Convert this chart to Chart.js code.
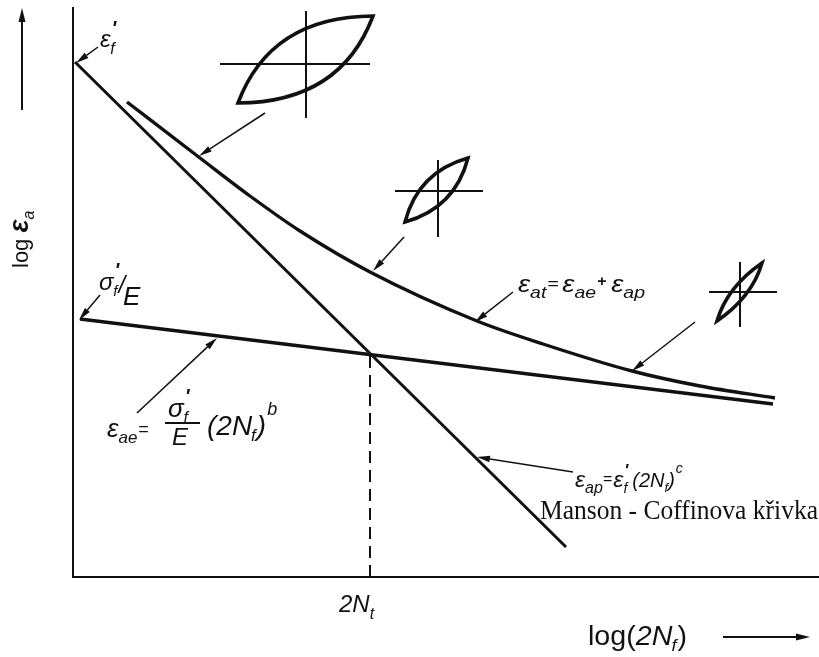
<!DOCTYPE html>
<html>
<head>
<meta charset="utf-8">
<script src="https://cdn.jsdelivr.net/npm/chart.js@4/dist/chart.umd.min.js"></script>
<style>
  html, body { margin: 0; padding: 0; background: #fff; }
  canvas { display: block; }
</style>
</head>
<body>
<canvas id="c" width="819" height="657"></canvas>
<script>
// Strain–life diagram (log 2Nf vs log εa), schematic units.

// Plastic strain amplitude (Manson–Coffin line)
const plasticX = [0.02, 4.93];
const plasticY = [5.15, 0.30];
// Elastic strain amplitude (Basquin line)
const elasticX = [0.07, 7.00];
const elasticY = [2.58, 1.73];
// Total strain amplitude curve
const totalX = [0.54, 1.27, 1.77, 2.27, 2.97, 4.04, 4.70, 5.59, 6.27, 7.02];
const totalY = [4.75, 4.19, 3.81, 3.46, 3.05, 2.56, 2.33, 2.06, 1.91, 1.79];
// Transition life 2Nt
const transitionX = [2.97, 2.97];
const transitionY = [2.21, 0.00];

// Hysteresis loop sketches: lower-left corner, upper arc control, upper-right corner
const loopCorner1 = [[1.65, 4.74], [3.32, 3.55], [6.44, 2.56]];
const loopControl = [[1.975, 5.605], [3.45, 4.05], [6.54, 2.90]];
const loopCorner2 = [[3.00, 5.61], [3.95, 4.19], [6.89, 3.14]];
// loop axes: horizontal [x1, x2, y], vertical [x, y1, y2]
const loopAxisH = [[1.47, 2.97, 5.13], [3.22, 4.10, 3.86], [6.36, 7.04, 2.85]];
const loopAxisV = [[2.33, 5.66, 4.59], [3.65, 4.17, 3.40], [6.67, 3.15, 2.50]];

// Leader arrows: [fromX, fromY, tipX, tipY]
const leaders = [
  [0.25, 5.30, 0.03, 5.14],
  [1.92, 4.64, 1.26, 4.21],
  [3.31, 3.40, 3.00, 3.06],
  [4.40, 2.85, 4.02, 2.55],
  [6.22, 2.55, 5.59, 2.06],
  [0.27, 2.82, 0.06, 2.57],
  [0.64, 1.64, 1.44, 2.39],
  [5.00, 1.05, 4.04, 1.20]
];

// Axis direction arrows
const axisArrows = [
  [-0.51, 4.67, -0.51, 5.69],
  [6.50, -0.60, 7.37, -0.60]
];

const SANS = '"Liberation Sans", Arial, sans-serif';
const SERIF = '"Liberation Serif", "Times New Roman", serif';
const INK = '#111';
const PRIME = "'";

// rich labels: anchor (data units), runs [text, size, style, dy, dx, family]
const labels = [
  { x: 0.27, y: 5.30, runs: [['ε', 24, 'italic'], [PRIME, 20, 'bold italic', -12, 1], ['f', 16, 'italic', 7, -6]] },
  { x: -0.45, y: 3.09, rot: -Math.PI / 2, runs: [['log ', 22, 'normal'], ['ε', 27, 'bold italic'], ['a', 16, 'italic', 6, 0]] },
  { x: 0.26, y: 2.87, runs: [['σ', 24, 'italic'], [PRIME, 20, 'bold italic', -13, 1], ['f', 15, 'italic', 6, -6], ['/', 24, 'italic', 3, 1], ['E', 26, 'italic', 15, -2]] },
  { x: 4.45, y: 2.85, fit: 127, runs: [['ε', 24, 'italic'], ['at', 17, 'italic', 6], ['=', 17, 'normal', -3, 1], ['ε', 24, 'italic', 0, 3], ['ae', 17, 'italic', 6], ['+', 14, 'bold', -6, 1], ['ε', 24, 'italic', 0, 4], ['ap', 17, 'italic', 6]] },
  { x: 0.34, y: 1.40, runs: [['ε', 26, 'italic'], ['ae', 17, 'italic', 6], ['=', 18, 'normal', -2, 1]] },
  { x: 0.95, y: 1.60, runs: [['σ', 26, 'italic'], [PRIME, 20, 'bold italic', -14, 1], ['f', 16, 'italic', 6, -6]] },
  { x: 0.99, y: 1.32, runs: [['E', 24, 'italic']] },
  { x: 1.34, y: 1.42, runs: [['(2N', 28, 'italic'], ['f', 17, 'italic', 6, -1], [')', 28, 'italic', 0, 1], ['b', 18, 'italic', -20, 1]] },
  { x: 5.02, y: 0.90, runs: [['ε', 23, 'italic'], ['ap', 16, 'italic', 6], ['=', 16, 'normal', -3, 0], ['ε', 23, 'italic', 0, 1], [PRIME, 17, 'bold italic', -11, 1], ['f', 14, 'italic', 6, -5], ['(2N', 20, 'italic', 0, 5], ['f', 13, 'italic', 5, 0], [')', 20, 'italic', 0, 0], ['c', 14, 'italic', -14, 1]] },
  { x: 4.67, y: 0.58, fit: 278, runs: [['Manson - Coffinova křivka', 28, 'normal', 0, 0, SERIF]] },
  { x: 2.66, y: -0.35, runs: [['2N', 24, 'italic'], ['t', 16, 'italic', 7, 0]] },
  { x: 5.15, y: -0.68, fit: 99, runs: [['log(', 27, 'normal'], ['2N', 27, 'italic'], ['f', 17, 'italic', 6, -1], [')', 27, 'normal', 0, 1]] }
];
// fraction bar of σ'f/E: [x1, x2, y]
const fractionBar = [0.92, 1.27, 1.54];

function pairs(xs, ys) { return xs.map((x, i) => ({ x, y: ys[i] })); }

function runFont(r) {
  return `${r[2]} ${r[1]}px ${r[5] || SANS}`;
}
function drawRich(ctx, x0, y0, lab) {
  ctx.save();
  ctx.translate(x0, y0);
  if (lab.rot) ctx.rotate(lab.rot);
  let total = 0;
  for (const r of lab.runs) { ctx.font = runFont(r); total += (r[4] || 0) + ctx.measureText(r[0]).width; }
  if (lab.fit) ctx.scale(lab.fit / total, 1);
  ctx.fillStyle = INK;
  ctx.textBaseline = 'alphabetic';
  let x = 0;
  for (const r of lab.runs) {
    ctx.font = runFont(r);
    x += r[4] || 0;
    ctx.fillText(r[0], x, r[3] || 0);
    x += ctx.measureText(r[0]).width;
  }
  ctx.restore();
}

function arrowLine(ctx, x1, y1, x2, y2, lw, len, half) {
  const a = Math.atan2(y2 - y1, x2 - x1);
  const bx = x2 - len * Math.cos(a), by = y2 - len * Math.sin(a);
  ctx.lineWidth = lw;
  ctx.beginPath(); ctx.moveTo(x1, y1); ctx.lineTo(bx, by); ctx.stroke();
  ctx.beginPath();
  ctx.moveTo(x2, y2);
  ctx.lineTo(bx + half * Math.sin(a), by - half * Math.cos(a));
  ctx.lineTo(bx - half * Math.sin(a), by + half * Math.cos(a));
  ctx.closePath(); ctx.fill();
}

const sketchPlugin = {
  id: 'sketch',
  afterDatasetsDraw(chart) {
    const ctx = chart.ctx;
    const X = v => chart.scales.x.getPixelForValue(v);
    const Y = v => chart.scales.y.getPixelForValue(v);
    ctx.save();
    ctx.strokeStyle = INK; ctx.fillStyle = INK;
    ctx.lineCap = 'butt'; ctx.lineJoin = 'miter';

    // hysteresis loops
    for (let i = 0; i < loopCorner1.length; i++) {
      const h = loopAxisH[i], v = loopAxisV[i];
      ctx.lineWidth = 2;
      ctx.beginPath();
      ctx.moveTo(X(h[0]), Y(h[2])); ctx.lineTo(X(h[1]), Y(h[2]));
      ctx.moveTo(X(v[0]), Y(v[1])); ctx.lineTo(X(v[0]), Y(v[2]));
      ctx.stroke();
      const p0 = loopCorner1[i], c = loopControl[i], p2 = loopCorner2[i];
      const cl = [p0[0] + p2[0] - c[0], p0[1] + p2[1] - c[1]];
      ctx.lineWidth = 3.6;
      ctx.beginPath();
      ctx.moveTo(X(p0[0]), Y(p0[1]));
      ctx.quadraticCurveTo(X(c[0]), Y(c[1]), X(p2[0]), Y(p2[1]));
      ctx.quadraticCurveTo(X(cl[0]), Y(cl[1]), X(p0[0]), Y(p0[1]));
      ctx.closePath();
      ctx.stroke();
    }

    // leader arrows
    for (const a of leaders) arrowLine(ctx, X(a[0]), Y(a[1]), X(a[2]), Y(a[3]), 1.5, 13, 3.2);
    for (const a of axisArrows) arrowLine(ctx, X(a[0]), Y(a[1]), X(a[2]), Y(a[3]), 2, 14, 3.5);

    // fraction bar
    ctx.lineWidth = 2;
    ctx.beginPath();
    ctx.moveTo(X(fractionBar[0]), Y(fractionBar[2])); ctx.lineTo(X(fractionBar[1]), Y(fractionBar[2]));
    ctx.stroke();

    for (const lab of labels) drawRich(ctx, X(lab.x), Y(lab.y), lab);
    ctx.restore();
  }
};

const lineStyle = { showLine: true, borderColor: INK, pointRadius: 0, fill: false };

new Chart(document.getElementById('c').getContext('2d'), {
  type: 'scatter',
  data: {
    datasets: [
      { ...lineStyle, label: 'εap', data: pairs(plasticX, plasticY), borderWidth: 3 },
      { ...lineStyle, label: 'εae', data: pairs(elasticX, elasticY), borderWidth: 3.4 },
      { ...lineStyle, label: 'εat', data: pairs(totalX, totalY), borderWidth: 3.4, cubicInterpolationMode: 'monotone' },
      { ...lineStyle, label: '2Nt', data: pairs(transitionX, transitionY), borderWidth: 2, borderDash: [12, 7] }
    ]
  },
  options: {
    responsive: false,
    animation: false,
    layout: { padding: { left: 73, top: 8, right: 1, bottom: 80 } },
    plugins: { legend: { display: false }, tooltip: { enabled: false } },
    scales: {
      x: {
        type: 'linear', min: 0, max: 7.45,
        grid: { display: false, drawTicks: false },
        ticks: { display: false },
        border: { display: true, color: INK, width: 2 }
      },
      y: {
        type: 'linear', min: 0, max: 5.69,
        grid: { display: false, drawTicks: false },
        ticks: { display: false },
        border: { display: true, color: INK, width: 2 }
      }
    }
  },
  plugins: [sketchPlugin]
});
</script>
</body>
</html>
